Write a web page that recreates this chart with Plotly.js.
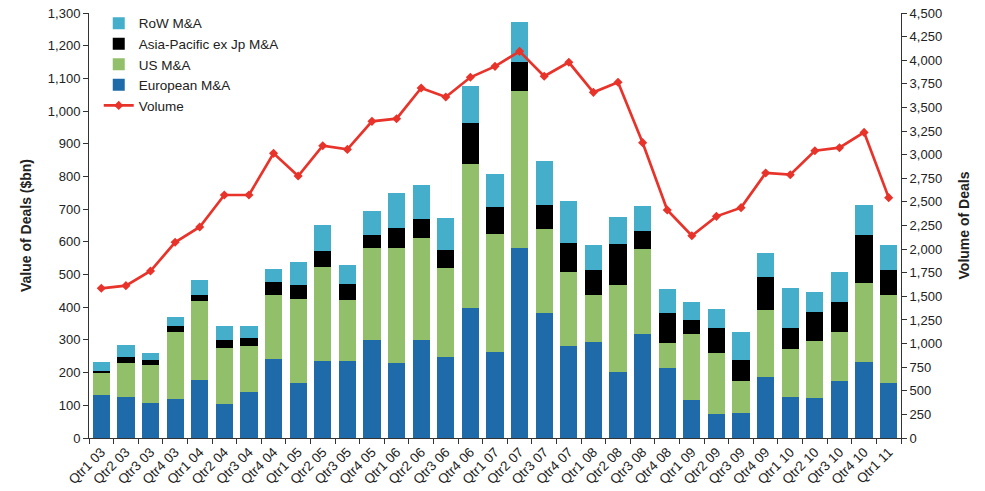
<!DOCTYPE html>
<html>
<head>
<meta charset="utf-8">
<script src="https://cdn.plot.ly/plotly-3.0.1.min.js"></script>
<style>html,body{margin:0;padding:0;background:#fff;}#chart{width:985px;height:491px;}</style>
</head>
<body>
<div id="chart"></div>
<script>
const quarters = ["Qtr1 03","Qtr2 03","Qtr3 03","Qtr4 03","Qtr1 04","Qtr2 04","Qtr3 04","Qtr4 04","Qtr1 05","Qtr2 05","Qtr3 05","Qtr4 05","Qtr1 06","Qtr2 06","Qtr3 06","Qtr4 06","Qtr1 07","Qtr2 07","Qtr3 07","Qtr4 07","Qtr1 08","Qtr2 08","Qtr3 08","Qtr4 08","Qtr1 09","Qtr2 09","Qtr3 09","Qtr4 09","Qtr1 10","Qtr2 10","Qtr3 10","Qtr4 10","Qtr1 11"];
const europeanMA = [131,125,107,119,177,104,141,242,168,236,236,300,229,300,248,398,263,581,382,281,294,202,318,214,116,73,76,187,125,122,174,232,168];
const usMA       = [69,104,116,205,242,171,140,195,257,287,186,281,352,312,272,440,361,480,257,227,143,266,260,77,202,187,98,205,147,175,150,242,269];
const asiaPacMA  = [6,19,16,19,18,25,25,40,43,49,49,40,61,58,55,126,83,89,74,88,77,125,55,91,43,76,65,100,64,88,92,147,77];
const rowMA      = [26,36,21,27,46,43,37,40,70,79,58,73,107,104,98,113,101,122,134,129,76,83,77,74,55,59,85,74,123,62,92,92,76];
const volumeDeals = [1585,1613,1768,2072,2234,2573,2573,3014,2774,3095,3056,3353,3381,3706,3610,3819,3935,4094,3830,3978,3660,3766,3127,2414,2142,2347,2439,2806,2788,3042,3074,3236,2545];

const font = "Liberation Sans, Arial, sans-serif";
const traces = [
  {type:'bar', name:'European M&A', x:quarters, y:europeanMA, marker:{color:'#1F6BAA'}, legendrank:4},
  {type:'bar', name:'US M&A', x:quarters, y:usMA, marker:{color:'#92BF6A'}, legendrank:3},
  {type:'bar', name:'Asia-Pacific ex Jp M&A', x:quarters, y:asiaPacMA, marker:{color:'#000000'}, legendrank:2},
  {type:'bar', name:'RoW M&A', x:quarters, y:rowMA, marker:{color:'#45AECA'}, legendrank:1},
  {type:'scatter', mode:'lines+markers', name:'Volume', x:quarters, y:volumeDeals, yaxis:'y2',
   line:{color:'#E8332A', width:2.7}, marker:{symbol:'diamond', size:7, color:'#E8332A'}, legendrank:5}
];
const layout = {
  width:985, height:491,
  margin:{l:89, r:84, t:13, b:53, autoexpand:false},
  barmode:'stack', bargap:0.3,
  paper_bgcolor:'#fff', plot_bgcolor:'#fff',
  font:{family:font, size:13, color:'#222'},
  showlegend:true,
  legend:{x:0.012, y:1.012, xanchor:'left', yanchor:'top', traceorder:'normal', font:{family:font, size:13.5, color:'#222'}, bgcolor:'rgba(0,0,0,0)', itemwidth:30},
  xaxis:{type:'category', range:[-0.5, quarters.length-0.5], automargin:false, tickangle:-45, showline:true, linecolor:'#333', linewidth:1, ticks:'outside', ticklen:5, tickcolor:'#333', tickson:'boundaries', showgrid:false, zeroline:false, tickfont:{family:font, size:13.5, color:'#222'}},
  yaxis:{range:[0,1300], automargin:false, dtick:100, tickformat:',d', showline:true, linecolor:'#333', linewidth:1, ticks:'outside', ticklen:5, tickcolor:'#333', showgrid:false, zeroline:false,
    title:{text:'<b>Value of Deals ($bn)</b>', font:{family:font, size:14, color:'#222'}, standoff:12}, tickfont:{family:font, size:13, color:'#222'}},
  yaxis2:{range:[0,4500], automargin:false, dtick:250, tickformat:',d', overlaying:'y', side:'right', showline:true, linecolor:'#333', linewidth:1, ticks:'outside', ticklen:5, tickcolor:'#333', showgrid:false, zeroline:false,
    title:{text:'<b>Volume of Deals</b>', font:{family:font, size:14, color:'#222'}, standoff:18}, tickfont:{family:font, size:13, color:'#222'}}
};
Plotly.newPlot('chart', traces, layout, {staticPlot:true, displayModeBar:false});
</script>
</body>
</html>
